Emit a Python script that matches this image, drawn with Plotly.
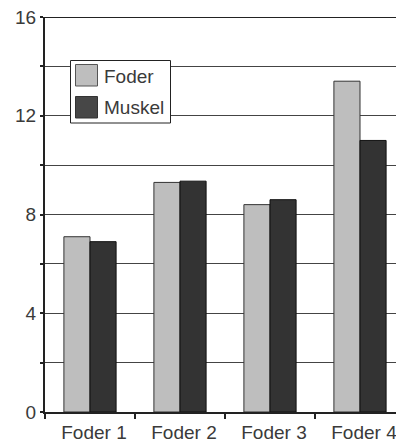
import plotly.graph_objects as go

categories = ["Foder 1", "Foder 2", "Foder 3", "Foder 4"]
foder = [7.1, 9.3, 8.4, 13.4]
muskel = [6.9, 9.35, 8.6, 11.0]
series_names = ["Foder", "Muskel"]
y_tick_vals = [0, 2, 4, 6, 8, 10, 12, 14, 16]
y_tick_text = ["0", "", "4", "", "8", "", "12", "", "16"]

W, H = 396, 444
ML, MR, MT, MB = 45, 0, 17, 32
PW, PH = W - ML - MR, H - MT - MB

LIGHT = "#bebebe"
DARK = "#333333"
FONT = dict(family="Liberation Sans, Arial, sans-serif", size=19, color="#3a3a3a")

fig = go.Figure()
fig.add_trace(go.Bar(x=categories, y=foder, name=series_names[0],
                     marker=dict(color=LIGHT, line=dict(color="#333333", width=1))))
fig.add_trace(go.Bar(x=categories, y=muskel, name=series_names[1],
                     marker=dict(color=DARK, line=dict(color="#111111", width=1))))


def px_x(px):
    return (px - ML) / PW


def px_y(py):
    return (H - MB - py) / PH


# hand-drawn legend box with large swatches
shapes = [
    dict(type="rect", xref="paper", yref="paper",
         x0=px_x(70.5), x1=px_x(170.5), y0=px_y(123), y1=px_y(60.5),
         line=dict(color="#222222", width=1), fillcolor="white", layer="above"),
    dict(type="rect", xref="paper", yref="paper",
         x0=px_x(75.5), x1=px_x(97.5), y0=px_y(86), y1=px_y(64.5),
         line=dict(color="#555555", width=1), fillcolor=LIGHT, layer="above"),
    dict(type="rect", xref="paper", yref="paper",
         x0=px_x(75.5), x1=px_x(97.5), y0=px_y(118), y1=px_y(96.5),
         line=dict(color="#333333", width=1), fillcolor="#474747", layer="above"),
]
annotations = [
    dict(text=series_names[0], xref="paper", yref="paper", x=px_x(102), y=px_y(76),
         xanchor="left", yanchor="middle", showarrow=False, font=FONT),
    dict(text=series_names[1], xref="paper", yref="paper", x=px_x(102), y=px_y(107),
         xanchor="left", yanchor="middle", showarrow=False, font=FONT),
]

fig.update_layout(
    width=W, height=H,
    margin=dict(l=ML, r=MR, t=MT, b=MB, pad=0),
    paper_bgcolor="white", plot_bgcolor="white",
    barmode="group", bargap=0.42, bargroupgap=0,
    showlegend=False,
    font=FONT,
    shapes=shapes,
    annotations=annotations,
)
fig.update_xaxes(
    type="category", range=[-0.5, 3.4],
    showline=True, linecolor="#222222", linewidth=2,
    ticks="outside", tickson="boundaries", ticklen=5, tickcolor="#222222", tickwidth=1.5,
    showgrid=False, tickfont=FONT, ticklabelshift=4, ticklabelstandoff=2,
)
fig.update_yaxes(
    range=[0, 16], tickvals=y_tick_vals, ticktext=y_tick_text,
    showline=True, linecolor="#222222", linewidth=2, mirror=False,
    ticks="outside", ticklen=3, tickcolor="#222222", tickwidth=1.5,
    showgrid=True, gridcolor="#444444", gridwidth=1.2,
    zeroline=False, tickfont=FONT,
)
# top border line at 16
fig.add_shape(type="line", xref="paper", yref="y", x0=0, x1=1, y0=16, y1=16,
              line=dict(color="#222222", width=2))

fig.write_html("out.html")
